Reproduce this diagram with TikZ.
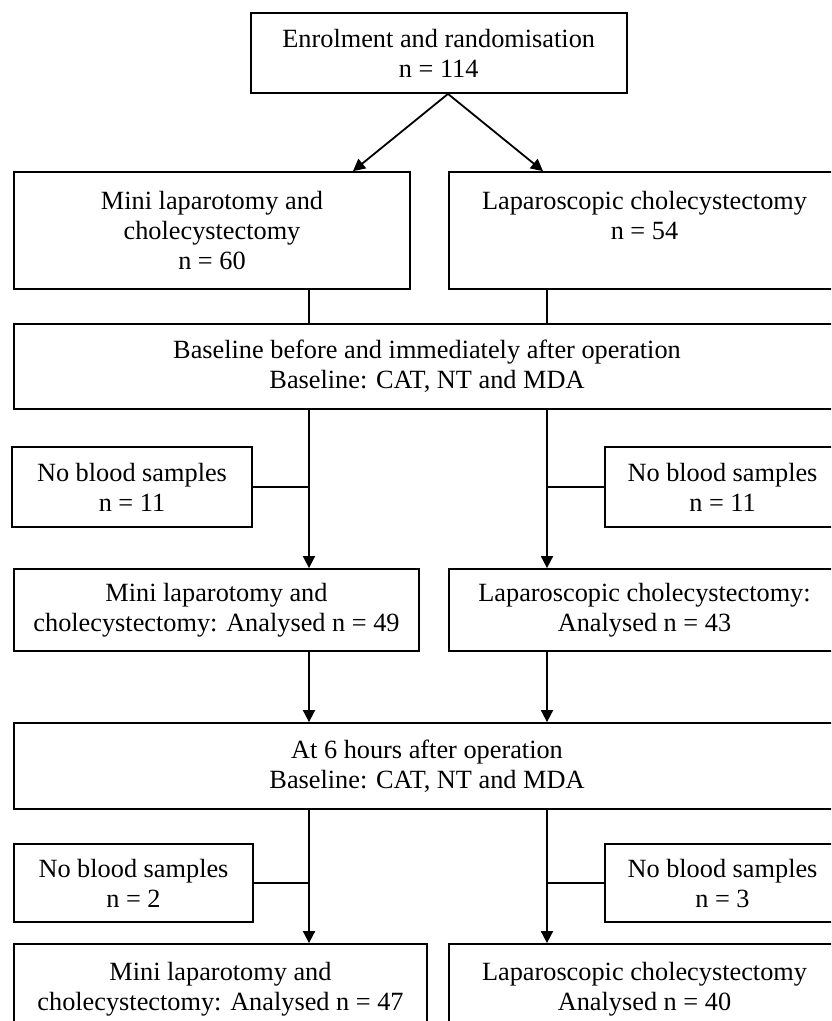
\documentclass[tikz,border=0pt]{standalone}
\usepackage{fontspec}
\setmainfont{Liberation Serif}
\usetikzlibrary{arrows.meta}
\begin{document}
\begin{tikzpicture}[x=1pt,y=-1pt,
  box/.style={draw, line width=1.8pt, inner sep=0pt, align=center,
    font=\fontsize{26.3}{30}\selectfont},
  conn/.style={line width=1.8pt},
  arr/.style={line width=1.8pt, -{Triangle[length=12pt,width=12pt]}}]
\useasboundingbox (0,0) rectangle (831,1021);
\clip (0,0) rectangle (831,1021);
\fill[white] (0,0) rectangle (831,1021);
% nodes
\node[box, minimum width=376pt, minimum height=80pt] (top) at (438.7,53) {Enrolment and randomisation\\n = 114};
\node[box, minimum width=396pt, minimum height=117pt] (mini1) at (212,230.5) {Mini laparotomy and\\cholecystectomy\\n = 60};
\node[box, minimum width=391pt, minimum height=117pt] (lap1) at (644.5,230.5) {Laparoscopic cholecystectomy\\n = 54\\\mbox{}};
\node[box, minimum width=826pt, minimum height=85pt] (base) at (427,366.5) {Baseline before and immediately after operation\\Baseline: CAT, NT and MDA};
\node[box, minimum width=240pt, minimum height=80pt] (nbs1) at (132,487) {No blood samples\\n = 11};
\node[box, minimum width=235pt, minimum height=80pt] (nbs2) at (722.5,487) {No blood samples\\n = 11};
\node[box, minimum width=405pt, minimum height=82pt] (ana1) at (216.5,610) {Mini laparotomy and\\cholecystectomy: Analysed n = 49};
\node[box, minimum width=391pt, minimum height=82pt] (ana2) at (644.5,610) {Laparoscopic cholecystectomy:\\Analysed n = 43};
\node[box, minimum width=826pt, minimum height=86pt] (six) at (427,766) {At 6 hours after operation\\Baseline: CAT, NT and MDA};
\node[box, minimum width=239pt, minimum height=78pt] (nbs3) at (133.5,883) {No blood samples\\n = 2};
\node[box, minimum width=235pt, minimum height=78pt] (nbs4) at (722.5,883) {No blood samples\\n = 3};
\node[box, minimum width=413pt, minimum height=90pt] (fin1) at (220.5,989) {Mini laparotomy and\\cholecystectomy: Analysed n = 47};
\node[box, minimum width=391pt, minimum height=90pt] (fin2) at (644.5,989) {Laparoscopic cholecystectomy\\Analysed n = 40};
% helper coordinates
\coordinate (apex) at (448,93);
\coordinate (tL) at (353,172);
\coordinate (tR) at (543,172);
\coordinate (cL) at (309,0);
\coordinate (cR) at (547,0);
% connectors
\draw[arr] (top.south -| apex) -- (mini1.north -| tL);
\draw[arr] (top.south -| apex) -- (lap1.north -| tR);
\draw[conn] (mini1.south -| cL) -- (base.north -| cL);
\draw[conn] (lap1.south -| cR) -- (base.north -| cR);
\draw[arr] (base.south -| cL) -- (ana1.north -| cL);
\draw[arr] (base.south -| cR) -- (ana2.north -| cR);
\draw[conn] (nbs1.east) -- (nbs1.east -| cL);
\draw[conn] (nbs2.west) -- (nbs2.west -| cR);
\draw[arr] (ana1.south -| cL) -- (six.north -| cL);
\draw[arr] (ana2.south -| cR) -- (six.north -| cR);
\draw[arr] (six.south -| cL) -- (fin1.north -| cL);
\draw[arr] (six.south -| cR) -- (fin2.north -| cR);
\draw[conn] (nbs3.east) -- (nbs3.east -| cL);
\draw[conn] (nbs4.west) -- (nbs4.west -| cR);
\end{tikzpicture}
\end{document}
